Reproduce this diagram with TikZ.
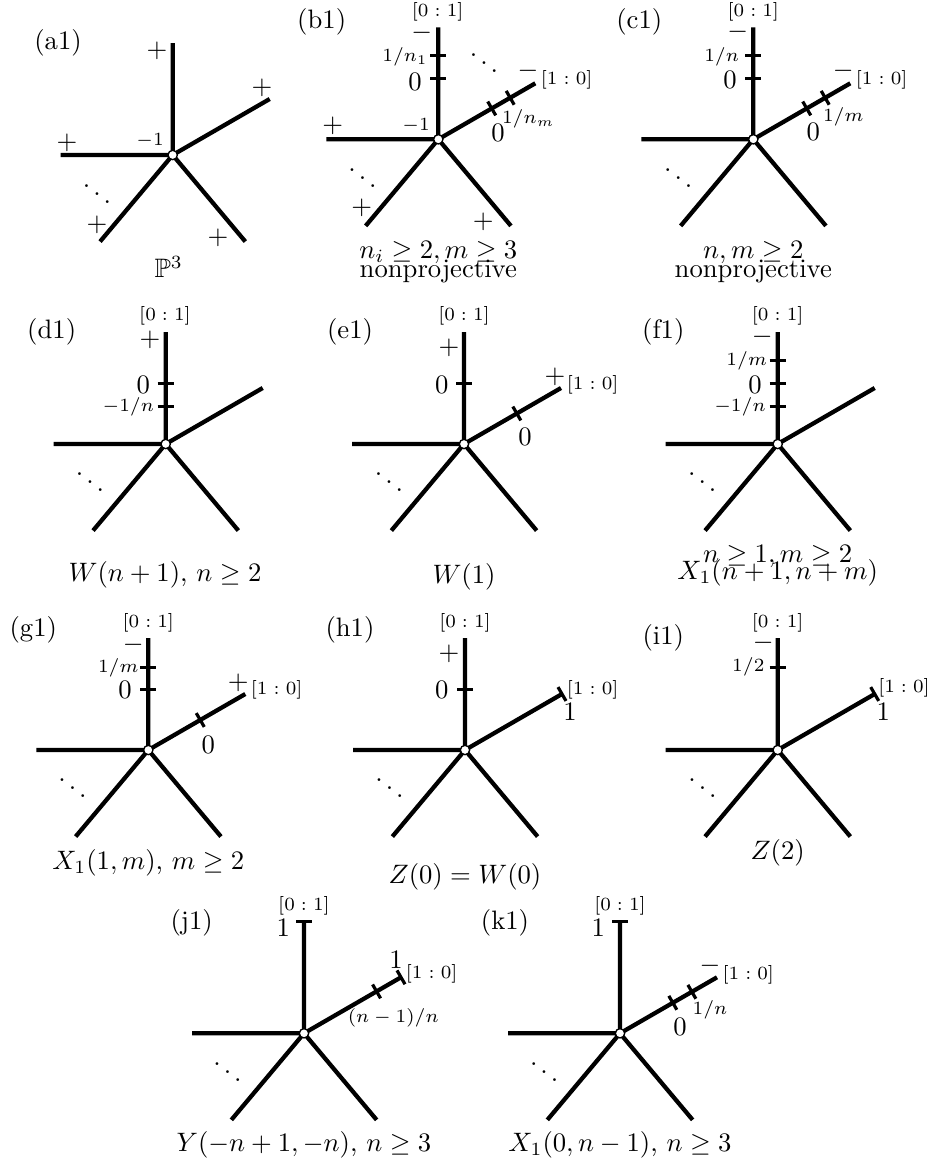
\documentclass[tikz,border=0pt]{standalone}
\usepackage{amsmath,amssymb}
\newcommand\mystarb[1]{%
  \coordinate (#1o) at (0,0);
  \coordinate (#1u) at (90:112);
  \coordinate (#1r) at (30:112);
  \coordinate (#1l) at (180:112);
  \coordinate (#1a) at (230:113);
  \coordinate (#1b) at (310:113);
  \draw[arm] (#1o) -- (#1u) (#1o) -- (#1r) (#1o) -- (#1l) (#1o) -- (#1a) (#1o) -- (#1b);
}
\newcommand\vtk[1]{\draw[tk] (-8,#1) -- (8,#1);}
\newcommand\rtk[1]{\draw[tk,rotate=30] (#1,-8) -- (#1,8);}
\begin{document}
\begin{tikzpicture}[x=0.375pt,y=0.375pt,
  arm/.style={line width=1.6pt},
  tk/.style={line width=1.2pt},
  vtx/.style={circle,draw,line width=0.5pt,fill=white,inner sep=0pt,minimum size=3.5pt},
  lb/.style={inner sep=0pt},
  sm/.style={inner sep=0pt,font=\scriptsize}]
\useasboundingbox (0,0) rectangle (935,-1167);

% (a1)
\begin{scope}[shift={(172.7,-155)}]
\mystarb{a}
\node[lb] (a-t) at (-114.7,112) {(a1)};
\node[lb] (a-p1) at (-15.7,104) {$+$};
\node[lb] (a-p2) at (89.3,67) {$+$};
\node[lb] (a-p3) at (-105.7,12) {$+$};
\node[lb] (a-p4) at (-75.7,-70) {$+$};
\node[lb] (a-p5) at (45.3,-83) {$+$};
\node[sm] (a-m) at (-22.7,14) {$-1$};
\node[lb] (a-d) at (-75.7,-31) {$\ddots$};
\node[lb] (a-c) at (-4,-112) {$\mathbb{P}^3$};
\node[vtx] (a-v) at (ao) {};
\end{scope}

% (b1)
\begin{scope}[shift={(438.3,-139.3)}]
\mystarb{b}
\vtk{60.7}\vtk{83.5}\rtk{61.7}\rtk{83}
\node[lb] (b-t) at (-116.6,117.6) {(b1)};
\node[sm] (b-e1) at (-0.6,127.6) {$[0:1]$};
\node[lb] (b-m1) at (-16.6,106) {$-$};
\node[sm] (b-n1) at (-33.3,82) {$1/n_1$};
\node[lb] (b-z1) at (-23.3,57.6) {$0$};
\node[lb] (b-d1) at (45.7,83.8) {$\ddots$};
\node[lb] (b-m2) at (89.7,68.3) {$-$};
\node[sm] (b-e2) at (128.4,59.3) {$[1:0]$};
\node[sm] (b-nm) at (90,20.3) {$1/n_m$};
\node[lb] (b-z2) at (59.7,6) {$0$};
\node[sm] (b-mo) at (-22.3,13.3) {$-1$};
\node[lb] (b-p1) at (-105.6,13.3) {$+$};
\node[lb] (b-d2) at (-75.8,-30.7) {$\ddots$};
\node[lb] (b-p2) at (-76.6,-69) {$+$};
\node[lb] (b-p3) at (45,-82.4) {$+$};
\node[lb] (b-c1) at (0,-113) {$n_i\geq 2, m\geq 3$};
\node[lb] (b-c2) at (0,-132.4) {nonprojective};
\node[vtx] (b-v) at (bo) {};
\end{scope}

% (c1)
\begin{scope}[shift={(753.3,-139.3)}]
\mystarb{c}
\vtk{60.7}\vtk{83.5}\rtk{61.7}\rtk{83}
\node[lb] (c-t) at (-114,117.6) {(c1)};
\node[sm] (c-e1) at (0,127.6) {$[0:1]$};
\node[lb] (c-m1) at (-15.6,107) {$-$};
\node[sm] (c-n) at (-31.6,82.6) {$1/n$};
\node[lb] (c-z1) at (-23.3,59.3) {$0$};
\node[lb] (c-m2) at (90,68.6) {$-$};
\node[sm] (c-e2) at (128.4,59.3) {$[1:0]$};
\node[sm] (c-mm) at (90,22.6) {$1/m$};
\node[lb] (c-z2) at (60,7.6) {$0$};
\node[lb] (c-d) at (-75,-31.2) {$\ddots$};
\node[lb] (c-c1) at (0,-113) {$n,m\geq 2$};
\node[lb] (c-c2) at (0,-132.4) {nonprojective};
\node[vtx] (c-v) at (co) {};
\end{scope}

% (d1)
\begin{scope}[shift={(165.7,-444)}]
\mystarb{d}
\vtk{60.7}\vtk{37.9}
\node[lb] (d-t) at (-114,112.3) {(d1)};
\node[sm] (d-e1) at (-0.7,128.3) {$[0:1]$};
\node[lb] (d-p) at (-15.7,104) {$+$};
\node[lb] (d-z) at (-22.4,59) {$0$};
\node[sm] (d-n) at (-37.4,37.3) {$-1/n$};
\node[lb] (d-d) at (-75.7,-29.8) {$\ddots$};
\node[lb] (d-c) at (-0.7,-131) {$W(n+1)$, $n\geq 2$};
\node[vtx] (d-v) at (do) {};
\end{scope}

% (e1)
\begin{scope}[shift={(464,-444)}]
\mystarb{e}
\vtk{60.7}\rtk{61}
\node[lb] (e-t) at (-114,112.3) {(e1)};
\node[sm] (e-e1) at (0,128.3) {$[0:1]$};
\node[lb] (e-p1) at (-15,95.7) {$+$};
\node[lb] (e-z1) at (-22.3,59) {$0$};
\node[lb] (e-p2) at (91,67.3) {$+$};
\node[sm] (e-e2) at (128.7,59) {$[1:0]$};
\node[lb] (e-z2) at (61,7.3) {$0$};
\node[lb] (e-d) at (-75,-29.8) {$\ddots$};
\node[lb] (e-c) at (0,-132.7) {$W(1)$};
\node[vtx] (e-v) at (eo) {};
\end{scope}

% (f1)
\begin{scope}[shift={(777.7,-444)}]
\mystarb{f}
\vtk{83.5}\vtk{60.7}\vtk{37.9}
\node[lb] (f-t) at (-114.4,112.3) {(f1)};
\node[sm] (f-e1) at (0,128.3) {$[0:1]$};
\node[lb] (f-m) at (-15.4,106.7) {$-$};
\node[sm] (f-mm) at (-31,83.3) {$1/m$};
\node[lb] (f-z) at (-22.7,59) {$0$};
\node[sm] (f-n) at (-37.7,37.3) {$-1/n$};
\node[lb] (f-d) at (-75.5,-29.8) {$\ddots$};
\node[lb] (f-c1) at (0,-112.7) {$n\geq 1, m\geq 2$};
\node[lb] (f-c2) at (0,-129.3) {$X_1(n+1,n+m)$};
\node[vtx] (f-v) at (fo) {};
\end{scope}

% (g1)
\begin{scope}[shift={(148.3,-750)}]
\mystarb{g}
\vtk{82.5}\vtk{60.7}\rtk{60}
\node[lb] (g-t) at (-115,120) {(g1)};
\node[sm] (g-e1) at (0,126.7) {$[0:1]$};
\node[lb] (g-m) at (-15,105) {$-$};
\node[sm] (g-mm) at (-30,81.7) {$1/m$};
\node[lb] (g-z1) at (-23.3,60) {$0$};
\node[lb] (g-p) at (90,66.7) {$+$};
\node[sm] (g-e2) at (128.4,60) {$[1:0]$};
\node[lb] (g-z2) at (60,5) {$0$};
\node[lb] (g-d) at (-75.8,-30.5) {$\ddots$};
\node[lb] (g-c) at (0,-113.3) {$X_1(1,m)$, $m\geq 2$};
\node[vtx] (g-v) at (go) {};
\end{scope}

% (h1)
\begin{scope}[shift={(465,-750)}]
\mystarb{h}
\vtk{60.7}\rtk{112}
\node[lb] (h-t) at (-115,120) {(h1)};
\node[sm] (h-e1) at (0,126.7) {$[0:1]$};
\node[lb] (h-p) at (-16,96) {$+$};
\node[lb] (h-z) at (-23.3,60) {$0$};
\node[sm] (h-e2) at (127.7,60) {$[1:0]$};
\node[lb] (h-o) at (105,38.3) {$1$};
\node[lb] (h-d) at (-75.5,-30.5) {$\ddots$};
\node[lb] (h-c) at (0,-126.7) {$Z(0)=W(0)$};
\node[vtx] (h-v) at (ho) {};
\end{scope}

% (i1)
\begin{scope}[shift={(777.7,-750)}]
\mystarb{i}
\vtk{82.7}\rtk{112}
\node[lb] (i-t) at (-114.4,111.7) {(i1)};
\node[sm] (i-e1) at (0,126.7) {$[0:1]$};
\node[lb] (i-m) at (-14.4,106.7) {$-$};
\node[sm] (i-h) at (-29.4,82.7) {$1/2$};
\node[sm] (i-e2) at (126.3,61.7) {$[1:0]$};
\node[lb] (i-o) at (105.6,38.3) {$1$};
\node[lb] (i-d) at (-75.2,-30.5) {$\ddots$};
\node[lb] (i-c) at (0,-103.3) {$Z(2)$};
\node[vtx] (i-v) at (io) {};
\end{scope}

% (j1)
\begin{scope}[shift={(304,-1033.3)}]
\mystarb{j}
\vtk{112}\rtk{112}\rtk{83.8}
\node[lb] (j-t) at (-112.3,110) {(j1)};
\node[sm] (j-e1) at (0,127.3) {$[0:1]$};
\node[lb] (j-o1) at (-20.7,105) {$1$};
\node[lb] (j-o2) at (92,73.3) {$1$};
\node[sm] (j-e2) at (127.7,59) {$[1:0]$};
\node[sm] (j-n) at (89.3,15) {$(n-1)/n$};
\node[lb] (j-d) at (-76.5,-30.5) {$\ddots$};
\node[lb] (j-c) at (0,-111.7) {$Y(-n+1,-n)$, $n\geq 3$};
\node[vtx] (j-v) at (jo) {};
\end{scope}

% (k1)
\begin{scope}[shift={(620,-1033.3)}]
\mystarb{k}
\vtk{112}\rtk{61}\rtk{83}
\node[lb] (k-t) at (-115,110) {(k1)};
\node[sm] (k-e1) at (0,127.3) {$[0:1]$};
\node[lb] (k-o) at (-21.7,105) {$1$};
\node[lb] (k-m) at (90,67.3) {$-$};
\node[sm] (k-e2) at (128.3,58.3) {$[1:0]$};
\node[sm] (k-n) at (90,23.3) {$1/n$};
\node[lb] (k-z) at (60,6.6) {$0$};
\node[lb] (k-d) at (-75.8,-30.5) {$\ddots$};
\node[lb] (k-c) at (0,-111.7) {$X_1(0,n-1)$, $n\geq 3$};
\node[vtx] (k-v) at (ko) {};
\end{scope}
\end{tikzpicture}
\end{document}
